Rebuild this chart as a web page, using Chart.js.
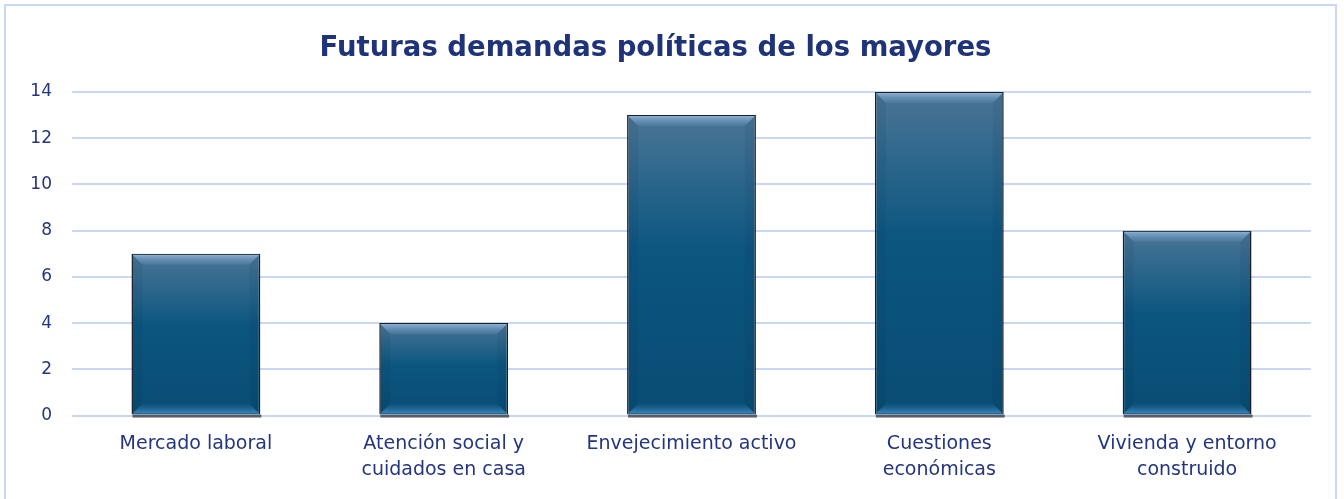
<!DOCTYPE html>
<html>
<head>
<meta charset="utf-8">
<script src="https://cdn.jsdelivr.net/npm/chart.js@4"></script>
<style>
  body { margin: 0; background: #fff; }
  #wrap { position: relative; width: 1344px; height: 499px; overflow: hidden; }
  #frame { position: absolute; left: 4px; top: 4px; width: 1333px; height: 500px; border: 2px solid #c9d7f4; box-sizing: border-box; }
  canvas { position: absolute; left: 0; top: 0; }
</style>
</head>
<body>
<div id="wrap">
  <div id="frame"></div>
  <canvas id="chart" width="1344" height="499"></canvas>
</div>
<script>
const categories = [
  "Mercado laboral",
  ["Atención social y", "cuidados en casa"],
  "Envejecimiento activo",
  ["Cuestiones", "económicas"],
  ["Vivienda y entorno", "construido"]
];
const values = [7, 4, 13, 14, 8];
const chartTitle = "Futuras demandas políticas de los mayores";

const FONT = "'DejaVu Sans', sans-serif";
const NAVY = "#24357f";

// vertical gradient for every bar, from its own top to its base
function barFill(ctx) {
  const chart = ctx.chart;
  const y = chart.scales.y;
  if (!chart.chartArea || !y || ctx.dataIndex === undefined) return "#0b527b";
  const top = y.getPixelForValue(values[ctx.dataIndex]);
  const base = y.getPixelForValue(0);
  if (!isFinite(top) || !isFinite(base)) return "#0b527b";
  const g = chart.ctx.createLinearGradient(0, top, 0, base);
  g.addColorStop(0, "#4a7596");
  g.addColorStop(0.45, "#0c5680");
  g.addColorStop(1, "#094c73");
  return g;
}

// bevel edges + bottom shadow drawn on top of library's bars
const bevel = {
  id: "bevel",
  beforeDatasetsDraw(chart) {
    const c = chart.ctx;
    chart.getDatasetMeta(0).data.forEach(b => {
      const l = b.x - b.width / 2, r = b.x + b.width / 2;
      c.save();
      c.fillStyle = "rgba(60,60,70,0.8)";
      c.fillRect(l + 1, b.base, r - l, 3);
      c.restore();
    });
  },
  afterDatasetsDraw(chart) {
    const c = chart.ctx;
    chart.getDatasetMeta(0).data.forEach(b => {
      const l = b.x - b.width / 2, r = b.x + b.width / 2;
      const t = b.y, bt = b.base, d = 11;
      c.save();
      // top bevel
      let g = c.createLinearGradient(0, t, 0, t + d);
      g.addColorStop(0, "rgba(150,190,225,0.9)");
      g.addColorStop(1, "rgba(110,150,190,0.2)");
      c.fillStyle = g;
      c.beginPath();
      c.moveTo(l + 1, t + 1); c.lineTo(r - 1, t + 1);
      c.lineTo(r - d, t + d); c.lineTo(l + d, t + d); c.closePath();
      c.fill();
      // bottom bevel
      g = c.createLinearGradient(0, bt - d, 0, bt);
      g.addColorStop(0, "rgba(40,110,160,0.1)");
      g.addColorStop(1, "rgba(70,150,205,0.9)");
      c.fillStyle = g;
      c.beginPath();
      c.moveTo(l + 1, bt - 1); c.lineTo(r - 1, bt - 1);
      c.lineTo(r - d, bt - d); c.lineTo(l + d, bt - d); c.closePath();
      c.fill();
      // side shading, faint
      c.fillStyle = "rgba(0,30,60,0.07)";
      c.beginPath();
      c.moveTo(l + 1, t + 1); c.lineTo(l + d, t + d); c.lineTo(l + d, bt - d); c.lineTo(l + 1, bt - 1); c.closePath();
      c.fill();
      c.beginPath();
      c.moveTo(r - 1, t + 1); c.lineTo(r - d, t + d); c.lineTo(r - d, bt - d); c.lineTo(r - 1, bt - 1); c.closePath();
      c.fill();
      c.restore();
    });
  }
};

new Chart(document.getElementById("chart"), {
  type: "bar",
  data: {
    labels: categories,
    datasets: [{
      data: values,
      backgroundColor: barFill,
      borderColor: "#1b1f24",
      borderWidth: 1.5,
      barPercentage: 0.52,
      categoryPercentage: 1
    }]
  },
  options: {
    responsive: false,
    animation: false,
    layout: { padding: { left: 0, right: 33, top: 0, bottom: 1 } },
    plugins: {
      legend: { display: false },
      tooltip: { enabled: false },
      title: {
        display: true,
        text: chartTitle,
        color: "#1f3478",
        font: { family: FONT, size: 27.5, weight: "bold" },
        padding: { top: 32, bottom: 27 }
      }
    },
    scales: {
      x: {
        grid: { display: false, drawTicks: false },
        border: { display: false },
        ticks: { color: NAVY, font: { family: FONT, size: 19, lineHeight: 1.38 }, padding: 15, maxRotation: 0, autoSkip: false }
      },
      y: {
        min: 0, max: 14,
        afterFit(s) { s.width = 72; },
        grid: { color: "#c9d7f4", lineWidth: 2, drawTicks: false },
        border: { display: false },
        ticks: { stepSize: 2, color: NAVY, font: { family: FONT, size: 17 }, padding: 20 }
      }
    }
  },
  plugins: [bevel]
});
</script>
</body>
</html>
